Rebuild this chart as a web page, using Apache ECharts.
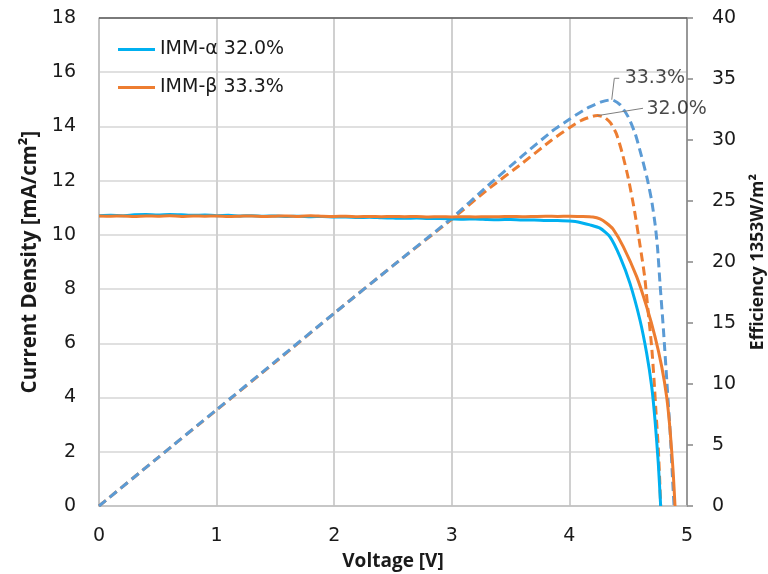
<!DOCTYPE html>
<html>
<head>
<meta charset="utf-8">
<script src="https://cdn.jsdelivr.net/npm/echarts@6/dist/echarts.min.js"></script>
<style>
  html, body { margin: 0; padding: 0; background: #fff; }
  #chart { width: 768px; height: 574px; }
</style>
</head>
<body>
<div id="chart"></div>
<script>
// J-V curves (voltage [V], current density [mA/cm²])
const alphaJV = [
  [0,10.71],[0.1,10.72],[0.2,10.71],[0.3,10.74],[0.4,10.75],[0.5,10.73],[0.6,10.75],[0.7,10.74],
  [0.8,10.72],[0.9,10.73],[1.0,10.71],[1.1,10.72],[1.2,10.70],[1.3,10.71],[1.4,10.69],[1.5,10.70],
  [1.6,10.68],[1.7,10.69],[1.8,10.67],[1.9,10.68],[2.0,10.66],[2.1,10.66],[2.2,10.64],[2.3,10.65],
  [2.4,10.63],[2.5,10.62],[2.6,10.61],[2.7,10.62],[2.8,10.60],[2.9,10.60],[3.0,10.59],[3.1,10.58],
  [3.2,10.59],[3.3,10.57],[3.4,10.56],[3.5,10.57],[3.6,10.55],[3.7,10.55],[3.8,10.53],[3.9,10.53],
  [4.0,10.51],[4.05,10.49],[4.1,10.45],[4.175,10.37],[4.26,10.25],[4.345,9.93],[4.43,9.2],
  [4.515,8.21],[4.6,6.86],[4.657,5.63],[4.7,4.4],[4.728,3.17],[4.756,1.57],[4.776,0]
];
const betaJV = [
  [0,10.70],[0.1,10.69],[0.2,10.70],[0.3,10.68],[0.4,10.70],[0.5,10.69],[0.6,10.71],[0.7,10.68],
  [0.8,10.70],[0.9,10.69],[1.0,10.70],[1.1,10.68],[1.2,10.69],[1.3,10.70],[1.4,10.68],[1.5,10.69],
  [1.6,10.70],[1.7,10.68],[1.8,10.71],[1.9,10.69],[2.0,10.68],[2.1,10.69],[2.2,10.67],[2.3,10.68],
  [2.4,10.67],[2.5,10.68],[2.6,10.67],[2.7,10.68],[2.8,10.66],[2.9,10.67],[3.0,10.66],[3.1,10.67],
  [3.2,10.66],[3.3,10.67],[3.4,10.67],[3.5,10.68],[3.6,10.67],[3.7,10.68],[3.8,10.69],[3.9,10.68],
  [4.0,10.69],[4.1,10.68],[4.2,10.66],[4.26,10.59],[4.317,10.43],[4.37,10.22],[4.458,9.57],
  [4.572,8.46],[4.657,7.35],[4.728,6.25],[4.785,5.14],[4.827,4.03],[4.856,2.8],[4.883,1.21],[4.898,0]
];

// Efficiency curves (voltage [V], efficiency [%] at 1353 W/m²)
const alphaEff = [
  [0,0],[0.5,3.95],[1,7.87],[1.5,11.8],[2,15.8],[2.5,19.7],[3,23.5],[3.3,25.9],[3.6,28.1],
  [3.85,30.0],[4.0,31.0],[4.1,31.6],[4.2,31.95],[4.24,32.0],[4.3,31.85],[4.35,31.4],[4.4,30.5],
  [4.45,28.9],[4.5,26.9],[4.55,24.4],[4.6,21.4],[4.64,18.8],[4.67,15.9],[4.7,13.0],[4.72,10.3],
  [4.737,7.6],[4.755,4.9],[4.768,2.1],[4.776,0]
];
const betaEff = [
  [0,0],[0.5,3.95],[1,7.9],[1.5,11.85],[2,15.8],[2.5,19.7],[3,23.6],[3.3,26.2],[3.6,28.7],
  [3.85,30.7],[4.0,31.7],[4.15,32.6],[4.28,33.15],[4.36,33.3],[4.43,32.9],[4.5,31.9],[4.56,30.5],
  [4.615,28.6],[4.66,26.9],[4.7,25.0],[4.73,23.0],[4.75,21.1],[4.77,18.3],[4.8,14.4],[4.828,10.3],
  [4.856,6.2],[4.878,2.1],[4.89,0]
];

const seriesNames = ['IMM-α 32.0%', 'IMM-β 33.3%'];

// Callout elbows and text anchors for the peak-efficiency labels
const betaCallout = { elbow: [[4.382, 35.06], [4.424, 35.06]], text: [4.47, 35.1] };
const alphaCallout = { elbow: [[4.626, 32.6]], text: [4.655, 32.55] };

const peakOf = arr => arr.reduce((m, p) => (p[1] > m[1] ? p : m), arr[0]);
const betaPeak = peakOf(betaEff);
const alphaPeak = peakOf(alphaEff);

const LABEL_FONT = 'DejaVu Sans';
const TITLE_FONT = 'Open Sans';
const TXT = '#1a1a1a';

const chart = echarts.init(document.getElementById('chart'), null, { renderer: 'canvas' });

chart.setOption({
  animation: false,
  backgroundColor: '#ffffff',
  textStyle: { fontFamily: LABEL_FONT },
  grid: { left: 99, right: 81, top: 18, bottom: 68, containLabel: false, outerBoundsMode: 'none' },
  legend: {
    orient: 'vertical',
    left: 113,
    top: 35,
    itemWidth: 37,
    itemHeight: 3,
    itemGap: 19,
    icon: 'rect',
    data: seriesNames,
    textStyle: { fontFamily: LABEL_FONT, fontSize: 19, color: TXT }
  },
  xAxis: {
    type: 'value', min: 0, max: 5, interval: 1,
    name: 'Voltage [V]', nameLocation: 'middle', nameGap: 46,
    nameTextStyle: { fontFamily: TITLE_FONT, fontSize: 19, fontWeight: 'bold', color: TXT },
    axisLine: { show: true, lineStyle: { color: '#bfbfbf', width: 1.5 } },
    axisTick: { show: false },
    axisLabel: { fontFamily: LABEL_FONT, fontSize: 19, color: TXT, margin: 21 },
    splitLine: { show: true, lineStyle: { color: '#d0d0d0', width: 2 } }
  },
  yAxis: [
    {
      type: 'value', min: 0, max: 18, interval: 2,
      name: 'Current Density [mA/cm²]', nameLocation: 'middle', nameGap: 58, nameRotate: 90,
      nameTextStyle: { fontFamily: TITLE_FONT, fontSize: 20.5, fontWeight: 'bold', color: TXT },
      axisLine: { show: true, lineStyle: { color: '#bfbfbf', width: 1.5 } },
      axisTick: { show: false },
      axisLabel: { fontFamily: LABEL_FONT, fontSize: 19, color: TXT, margin: 23 },
      splitLine: { show: true, lineStyle: { color: '#d6d6d6', width: 1.5 } }
    },
    {
      type: 'value', min: 0, max: 40, interval: 5, position: 'right',
      name: 'Efficiency 1353W/m²', nameLocation: 'middle', nameGap: 62, nameRotate: 90,
      nameTextStyle: { fontFamily: TITLE_FONT, fontSize: 17.5, fontWeight: 'bold', color: TXT },
      axisLine: { show: true, lineStyle: { color: '#868686', width: 1.5 } },
      axisTick: { show: true, inside: false, length: 6, lineStyle: { color: '#868686', width: 1.5 } },
      axisLabel: { fontFamily: LABEL_FONT, fontSize: 19, color: TXT, margin: 25 },
      splitLine: { show: false }
    }
  ],
  series: [
    {
      name: seriesNames[0], type: 'line', xAxisIndex: 0, yAxisIndex: 0,
      data: alphaJV, showSymbol: false, smooth: 0.2,
      lineStyle: { color: '#00B0F0', width: 3 }, itemStyle: { color: '#00B0F0' }, z: 3,
      // dark frame line along the top of the plot area
      markLine: {
        silent: true, symbol: 'none', label: { show: false },
        lineStyle: { color: '#595959', width: 1.5, type: 'solid' },
        data: [{ yAxis: 18 }]
      }
    },
    {
      name: seriesNames[1], type: 'line', xAxisIndex: 0, yAxisIndex: 0,
      data: betaJV, showSymbol: false, smooth: 0.2,
      lineStyle: { color: '#ED7D31', width: 3 }, itemStyle: { color: '#ED7D31' }, z: 4
    },
    {
      name: 'eff-alpha', type: 'line', xAxisIndex: 0, yAxisIndex: 1,
      data: alphaEff, showSymbol: false, smooth: 0.2,
      lineStyle: { color: '#ED7D31', width: 3, type: [9, 5] }, z: 2
    },
    {
      name: 'eff-beta', type: 'line', xAxisIndex: 0, yAxisIndex: 1,
      data: betaEff, showSymbol: false, smooth: 0.2,
      lineStyle: { color: '#5B9BD5', width: 3, type: [9, 5] }, z: 2
    },
    // leader lines for the peak labels
    {
      name: 'callout-beta', type: 'line', xAxisIndex: 0, yAxisIndex: 1,
      data: [betaPeak].concat(betaCallout.elbow), showSymbol: false, silent: true,
      lineStyle: { color: '#7f7f7f', width: 1 }, z: 5
    },
    {
      name: 'callout-alpha', type: 'line', xAxisIndex: 0, yAxisIndex: 1,
      data: [alphaPeak].concat(alphaCallout.elbow), showSymbol: false, silent: true,
      lineStyle: { color: '#7f7f7f', width: 1 }, z: 5
    },
    {
      name: 'peak-labels', type: 'scatter', xAxisIndex: 0, yAxisIndex: 1,
      symbolSize: 0, silent: true, z: 6,
      data: [
        { value: betaCallout.text, peak: betaPeak[1] },
        { value: alphaCallout.text, peak: alphaPeak[1] }
      ],
      label: {
        show: true, position: 'right', distance: 0,
        fontFamily: LABEL_FONT, fontSize: 19, color: TXT,
        formatter: p => p.data.peak.toFixed(1) + '%'
      }
    }
  ]
});
</script>
</body>
</html>
